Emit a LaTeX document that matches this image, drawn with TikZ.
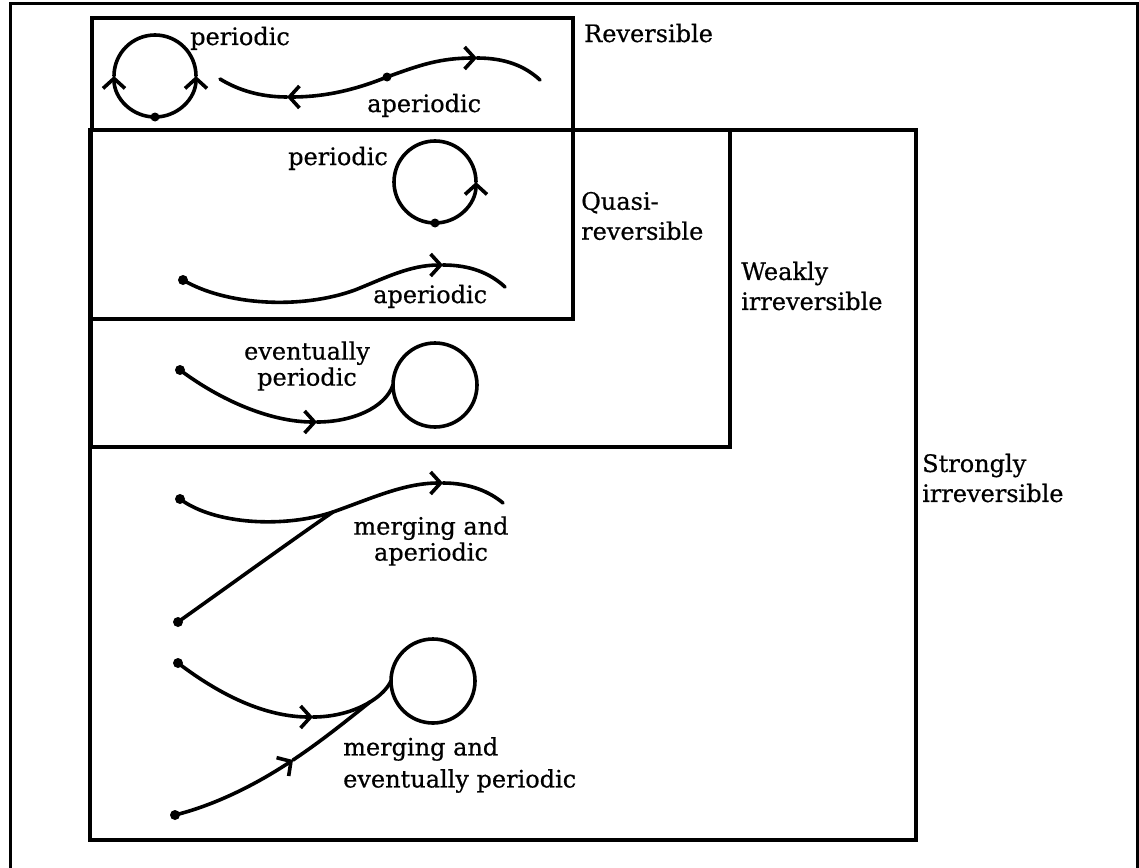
\documentclass[tikz,border=0pt]{standalone}
\usepackage{fontspec}
\setmainfont{DejaVu Serif}[FakeBold=0.6]
\usetikzlibrary{arrows.meta}
\begin{document}
\begin{tikzpicture}[x=1pt,y=-1pt,
  boxline/.style={line width=4.5pt},
  frameline/.style={line width=3pt},
  orbit/.style={line width=3.6pt, line cap=round},
  tipped/.style={orbit, -{Straight Barb[length=10pt,width=22pt]}},
  lbl/.style={font=\fontsize{24}{30}\selectfont, inner sep=0pt, align=left},
  clbl/.style={font=\fontsize{24}{26}\selectfont, inner sep=0pt, align=center},
  pt/.style={circle, fill, inner sep=0pt, minimum size=10pt}]
\useasboundingbox (0,0) rectangle (1139,867);
% outer frame
\draw[frameline] (10,875) -- (10,4) -- (1137,4) -- (1137,875);
% region boxes
\draw[boxline] (90,130) rectangle (916,840);
\draw[boxline] (91,130) rectangle (730,447);
\draw[boxline] (91,130) rectangle (573,319);
\draw[boxline] (92,18) rectangle (573,130);
% region labels
\node[lbl, anchor=base west] (lrev) at (584,42) {Reversible};
\node[lbl, anchor=west] (lquasi) at (581,216) {Quasi-\\reversible};
\node[lbl, anchor=west] (lweak) at (741,286) {Weakly\\irreversible};
\node[lbl, anchor=west] (lstrong) at (922,478) {Strongly\\irreversible};

% ---- Reversible: periodic
\coordinate (rcb) at (155,117);
\draw[tipped] (rcb) arc[start angle=90, end angle=0, radius=41];
\draw[orbit] (196,76) arc[start angle=0, end angle=-90, radius=41];
\draw[tipped] (rcb) arc[start angle=90, end angle=180, radius=41];
\draw[orbit] (114,76) arc[start angle=180, end angle=270, radius=41];
\node[pt, minimum size=9pt] (rcdot) at (rcb) {};
\node[lbl, anchor=base west] (rper) at (190,45) {periodic};
% ---- Reversible: aperiodic
\coordinate (rD) at (387,77);
\coordinate (rL) at (287,97);
\coordinate (rLe) at (220,79);
\coordinate (rR) at (477,58);
\coordinate (rRe) at (540,80);
\draw[tipped] (rD) .. controls (350,92) and (320,97) .. (rL);
\draw[orbit] (rL) .. controls (260,97) and (238,90) .. (rLe);
\draw[tipped] (rD) .. controls (420,65) and (440,58) .. (rR);
\draw[orbit] (rR) .. controls (505,58) and (525,66) .. (rRe);
\node[pt, minimum size=9pt] (rdot) at (rD) {};
\node[lbl, anchor=base west] (rap) at (367,112) {aperiodic};

% ---- Quasi-reversible: periodic
\coordinate (qcb) at (435,223);
\draw[tipped] (qcb) arc[start angle=90, end angle=0, radius=41];
\draw[orbit] (476,182) arc[start angle=0, end angle=-270, radius=41];
\node[pt, minimum size=9pt] (qcdot) at (qcb) {};
\node[lbl, anchor=base west] (qper) at (288,165) {periodic};
% ---- Quasi-reversible: aperiodic
\coordinate (qS) at (183,280);
\coordinate (qA) at (443,265);
\coordinate (qE) at (505,287);
\draw[tipped] (qS) .. controls (225,305) and (300,310) .. (355,290) .. controls (385,278) and (410,265) .. (qA);
\draw[orbit] (qA) .. controls (470,265) and (490,273) .. (qE);
\node[pt] (qdot) at (qS) {};
\node[lbl, anchor=base west] (qap) at (373,303) {aperiodic};

% ---- Weakly irreversible: eventually periodic
\coordinate (wS) at (180,370);
\coordinate (wA) at (317,422);
\coordinate (wC) at (393,385);
\draw[tipped] (wS) .. controls (220,400) and (270,422) .. (wA);
\draw[orbit] (wA) .. controls (352,422) and (385,408) .. (wC);
\draw[orbit] (435,385) circle[radius=42];
\node[pt] (wdot) at (wS) {};
\node[clbl, anchor=center] (wev) at (307,366) {eventually\\periodic};

% ---- Strongly irreversible: merging and aperiodic
\coordinate (sA) at (180,499);
\coordinate (sB) at (178,622);
\coordinate (sM) at (333,512);
\coordinate (sT) at (443,483);
\coordinate (sE) at (503,503);
\draw[orbit] (sA) .. controls (215,525) and (285,528) .. (sM);
\draw[tipped] (sM) .. controls (375,497) and (405,483) .. (sT);
\draw[orbit] (sT) .. controls (470,483) and (490,492) .. (sE);
\draw[orbit] (sB) .. controls (230,585) and (295,538) .. (sM);
\node[pt] (sAdot) at (sA) {};
\node[pt] (sBdot) at (sB) {};
\node[clbl, anchor=center] (sap) at (431,541) {merging and\\aperiodic};

% ---- Strongly irreversible: merging and eventually periodic
\coordinate (tC) at (178,663);
\coordinate (tCA) at (313,717);
\coordinate (tJ) at (391,681);
\coordinate (tD) at (175,815);
\coordinate (tDA) at (293,760);
\coordinate (tM) at (370,702);
\draw[tipped] (tC) .. controls (220,695) and (265,717) .. (tCA);
\draw[orbit] (tCA) .. controls (350,717) and (382,700) .. (tJ);
\draw[tipped] (tD) .. controls (215,805) and (255,785) .. (tDA);
\draw[orbit] (tDA) .. controls (320,742) and (345,722) .. (tM);
\draw[orbit] (433,681) circle[radius=42];
\node[pt] (tCdot) at (tC) {};
\node[pt] (tDdot) at (tD) {};
\node[lbl, anchor=west, font=\fontsize{24}{32}\selectfont] (tlab) at (343,765) {merging and\\eventually periodic};
\end{tikzpicture}
\end{document}
